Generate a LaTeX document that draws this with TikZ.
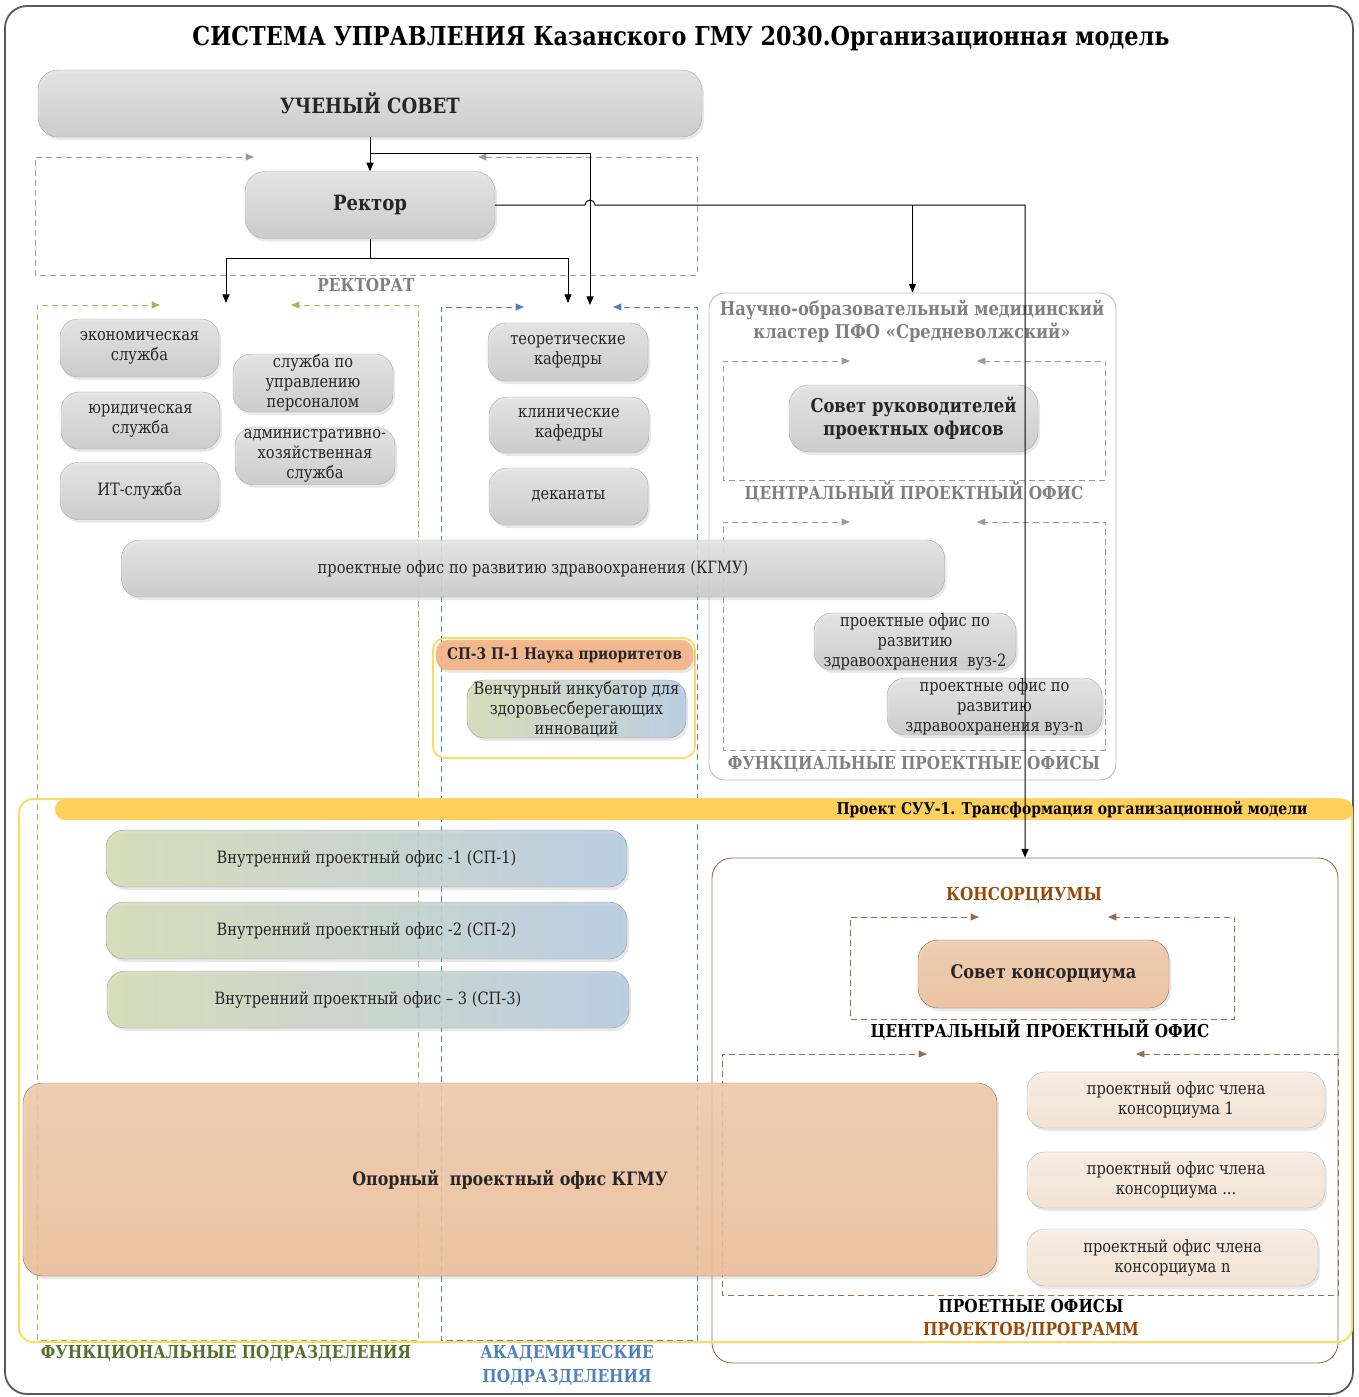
\documentclass[tikz,border=0pt]{standalone}
\usepackage{fontspec}
\setmainfont[FakeStretch=0.86]{DejaVu Serif}
\usetikzlibrary{arrows,shadows}
\definecolor{framegray}{HTML}{9A9A9A}
\definecolor{labgray}{HTML}{808080}
\definecolor{olive}{HTML}{9BBB59}
\definecolor{olivedark}{HTML}{56702E}
\definecolor{akblue}{HTML}{4F81BD}
\definecolor{kbrown}{HTML}{984807}
\definecolor{kframe}{HTML}{9C6B48}
\definecolor{ylw}{HTML}{FFD966}
\definecolor{gbleft}{HTML}{D5DCB4}
\definecolor{gbright}{HTML}{B6CBE2}
\definecolor{opora}{HTML}{ECBF9A}
\definecolor{peach}{HTML}{F5E2D2}
\definecolor{sporange}{HTML}{F4B183}
\tikzset{
  box/.style={rectangle, rounded corners=18pt, align=center, inner sep=0pt,
    text=black!85, font=\fontsize{17}{20}\selectfont, fill opacity=.88, text opacity=1,
    drop shadow={opacity=.18, shadow xshift=2pt, shadow yshift=-3pt}},
  graybox/.style={box, draw=black!35, top color=black!11, bottom color=black!21},
  gbbox/.style={box, draw=black!40, left color=gbleft, right color=gbright},
  orbox/.style={box, draw=opora!60!black, top color=opora!85, bottom color=opora},
  peachbox/.style={box, draw=black!30, top color=peach!60, bottom color=peach},
  bigtxt/.style={font=\bfseries\fontsize{19}{23}\selectfont},
  lab/.style={font=\bfseries\fontsize{17.8}{23}\selectfont, align=center, inner sep=0pt},
  dashframe/.style={dashed, dash pattern=on 6pt off 4pt, line width=.9pt, <->},
}
\begin{document}
\begin{tikzpicture}[>=triangle 45, x=1pt, y=-1pt]
\useasboundingbox (0,0) rectangle (1359,1397);
\draw[line width=1.8pt, black!65, rounded corners=22pt] (5,6) rectangle (1353,1394);
\node[font=\bfseries\fontsize{26}{30}\selectfont] (title) at (681,39) {СИСТЕМА УПРАВЛЕНИЯ Казанского ГМУ 2030.Организационная модель};

\draw[dashframe, framegray] (254,157) -- (35,157) -- (35,275) -- (697,275) -- (697,157) -- (478,157);
\draw[dashframe, olive] (160,305) -- (37,305) -- (37,1340) -- (418,1340) -- (418,305) -- (291,305);
\draw[dashframe, akblue] (524,307) -- (441,307) -- (441,1340) -- (697,1340) -- (697,307) -- (613,307);

\node[draw=black!25, line width=.9pt, rounded corners=16pt, minimum width=407pt, minimum height=487pt] (cluster) at (912.5,536.5) {};
\draw[dashframe, framegray] (850,361) -- (723,361) -- (723,480) -- (1105,480) -- (1105,361) -- (977,361);
\draw[dashframe, framegray] (850,522) -- (723,522) -- (723,750) -- (1105,750) -- (1105,522) -- (977,522);

\node[draw=kframe, line width=.9pt, rounded corners=20pt, minimum width=626pt, minimum height=505pt] (kons) at (1025,1110.5) {};
\draw[dashframe, kframe] (979,917) -- (850,917) -- (850,1019) -- (1234,1019) -- (1234,917) -- (1108,917);
\draw[dashframe, kframe] (927,1054) -- (722,1054) -- (722,1295) -- (1338,1295) -- (1338,1054) -- (1136,1054);

\draw[ylw, line width=2pt, rounded corners=14pt] (19,799) rectangle (1352,1342);
\fill[ylw!90!orange, rounded corners=10pt] (55,799) rectangle (1353,820);
\node[anchor=east, font=\bfseries\fontsize{16.2}{18}\selectfont] (suu) at (1311,809.5) {Проект СУУ-1. Трансформация организационной модели};

\node[graybox, rounded corners=20pt, minimum width=664pt, minimum height=67pt, font=\bfseries\fontsize{21}{24}\selectfont] (uc) at (370,103.5) {УЧЕНЫЙ СОВЕТ};
\node[graybox, rounded corners=20pt, minimum width=250pt, minimum height=67pt, font=\bfseries\fontsize{21}{24}\selectfont] (rektor) at (370,205) {Ректор};

\node[graybox, minimum width=159pt, minimum height=58pt] (econ) at (139.5,348) {экономическая\\служба};
\node[graybox, minimum width=159pt, minimum height=57pt] (law) at (140.5,420.5) {юридическая\\служба};
\node[graybox, minimum width=159pt, minimum height=57pt] (it) at (139.5,491) {ИТ-служба};
\node[graybox, minimum width=160pt, minimum height=58pt] (hr) at (313,383) {служба по\\управлению\\персоналом};
\node[graybox, minimum width=160pt, minimum height=57pt] (adm) at (315,456) {административно-\\хозяйственная\\служба};

\node[graybox, minimum width=160pt, minimum height=58pt] (theor) at (568,352) {теоретические\\кафедры};
\node[graybox, minimum width=160pt, minimum height=56pt] (clin) at (569,425) {клинические\\кафедры};
\node[graybox, minimum width=159pt, minimum height=57pt] (dean) at (568.5,496.5) {деканаты};

\node[graybox, minimum width=823pt, minimum height=57pt] (kgmu) at (533,568.5) {проектные офис по развитию здравоохранения (КГМУ)};

\node[draw=ylw, line width=1.8pt, rounded corners=12pt, minimum width=262pt, minimum height=120pt] (spframe) at (564,698) {};
\node[box, fill=sporange, draw=ylw!70!orange, rounded corners=12pt, minimum width=257pt, minimum height=30pt, font=\bfseries\fontsize{16}{18}\selectfont, drop shadow={opacity=0}] (sphead) at (564.5,655) {СП-3 П-1 Наука приоритетов};
\node[gbbox, minimum width=219pt, minimum height=58pt] (venture) at (576.5,709) {Венчурный инкубатор для\\здоровьесберегающих\\инноваций};

\node[graybox, rounded corners=20pt, minimum width=249pt, minimum height=67pt, bigtxt] (council) at (913.5,418.5) {Совет руководителей\\проектных офисов};
\node[graybox, minimum width=202pt, minimum height=57pt] (vuz2) at (915,641.5) {проектные офис по\\развитию\\здравоохранения\ \ вуз-2};
\node[graybox, minimum width=215pt, minimum height=57pt] (vuzn) at (994.5,706.5) {проектные офис по\\развитию\\здравоохранения вуз-n};

\node[gbbox, minimum width=521pt, minimum height=57pt] (sp1) at (366.5,858.5) {Внутренний проектный офис -1 (СП-1)};
\node[gbbox, minimum width=521pt, minimum height=57pt] (sp2) at (366.5,930.5) {Внутренний проектный офис -2 (СП-2)};
\node[gbbox, minimum width=522pt, minimum height=57pt] (sp3) at (368,999.5) {Внутренний проектный офис – 3 (СП-3)};

\node[orbox, rounded corners=20pt, minimum width=974pt, minimum height=193pt, font=\bfseries\fontsize{18.5}{22}\selectfont] (opora) at (510,1179.5) {Опорный\ \ проектный офис КГМУ};

\node[orbox, rounded corners=20pt, minimum width=251pt, minimum height=68pt, font=\bfseries\fontsize{18.8}{23}\selectfont] (kcouncil) at (1043.5,974) {Совет консорциума};
\node[peachbox, minimum width=298pt, minimum height=56pt] (mem1) at (1176,1100) {проектный офис члена\\консорциума 1};
\node[peachbox, minimum width=298pt, minimum height=56pt] (mem2) at (1176,1180) {проектный офис члена\\консорциума ...};
\node[peachbox, minimum width=291pt, minimum height=57pt] (mem3) at (1172.5,1257.5) {проектный офис члена\\консорциума n};

\node[lab, text=labgray] (rektorat) at (366,285) {РЕКТОРАТ};
\node[lab, text=olivedark] (funclab) at (226,1353) {ФУНКЦИОНАЛЬНЫЕ ПОДРАЗДЕЛЕНИЯ};
\node[lab, text=akblue, font=\bfseries\fontsize{17.8}{24}\selectfont] (akadlab) at (567,1365) {АКАДЕМИЧЕСКИЕ\\ПОДРАЗДЕЛЕНИЯ};
\node[lab, text=labgray, bigtxt] (cltitle) at (912,321) {Научно-образовательный медицинский\\кластер ПФО «Средневолжский»};
\node[lab, text=labgray] (cllab1) at (914,492) {ЦЕНТРАЛЬНЫЙ ПРОЕКТНЫЙ ОФИС};
\node[lab, text=labgray] (cllab2) at (914,764) {ФУНКЦИАЛЬНЫЕ ПРОЕКТНЫЕ ОФИСЫ};
\node[lab, text=kbrown] (konslab) at (1024,895) {КОНСОРЦИУМЫ};
\node[lab] (kcentr) at (1040,1030) {ЦЕНТРАЛЬНЫЙ ПРОЕКТНЫЙ ОФИС};
\node[lab] (projlab) at (1031,1318) {ПРОЕТНЫЕ ОФИСЫ\\\textcolor{kbrown}{ПРОЕКТОВ/ПРОГРАММ}};

\coordinate (ucsplit) at (370,153);
\coordinate (hop) at (590,205);
\coordinate (rksplit) at (370,258);
\coordinate (funcin) at (226,303);
\coordinate (akadin) at (568,303);
\coordinate (akadin2) at (590,305);
\begin{scope}[line width=1pt]
\draw[->] (uc) -- (rektor);
\draw[->] (ucsplit) -| (akadin2);
\draw (rektor) -- (rksplit);
\draw[->] (rksplit) -| (funcin);
\draw[->] (rksplit) -| (akadin);
\draw[->] (rektor.east) -- ([xshift=-5pt]hop) arc[start angle=180, end angle=0, radius=5pt] -| (kons.north);
\draw[->] (cluster.north |- hop) -- (cluster.north);
\end{scope}
\end{tikzpicture}
\end{document}
